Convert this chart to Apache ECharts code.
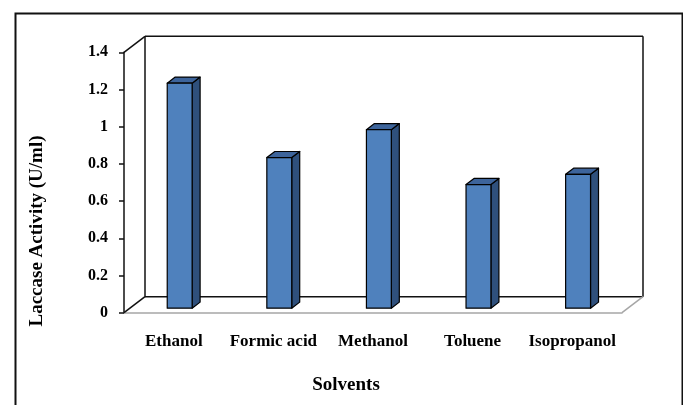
<!DOCTYPE html>
<html>
<head>
<meta charset="utf-8">
<script src="https://cdn.jsdelivr.net/npm/echarts@6/dist/echarts.min.js"></script>
<style>
  html, body { margin: 0; padding: 0; background: #ffffff; }
  #chart { width: 683px; height: 405px; }
</style>
</head>
<body>
<div id="chart"></div>
<script>
// Laccase activity measured after treatment with each solvent
const solvents = ['Ethanol', 'Formic acid', 'Methanol', 'Toluene', 'Isopropanol'];
const activity = [1.21, 0.81, 0.96, 0.665, 0.72];
const yMin = 0;
const yMax = 1.4;
const yStep = 0.2;

const FONT = '"Liberation Serif", "Times New Roman", serif';

// Oblique projection of the pseudo-3D box: offset of the back plane
const DEPTH = [21, -16];
// Bars occupy this slice of the depth
const BAR_FRONT = 0.28;
const BAR_BACK = 0.66;
const BAR_WIDTH_RATIO = 0.25;

const FACE = '#4F81BD';
const TOP = '#3D649B';
const SIDE = '#2F507C';

const chart = echarts.init(document.getElementById('chart'), null, { renderer: 'canvas' });

function renderWalls(params, api) {
  const bw = api.size([1, 0])[0];
  const p0 = api.coord([0, yMin]);
  const pTop = api.coord([0, yMax]);
  const pLast = api.coord([solvents.length - 1, yMin]);
  const L = p0[0] - bw / 2;
  const R = pLast[0] + bw / 2;
  const y0 = p0[1];
  const y1 = pTop[1];
  const dx = DEPTH[0], dy = DEPTH[1];
  const black = { stroke: '#111', lineWidth: 1.5, fill: null };
  const grey = { stroke: '#A6A6A6', lineWidth: 1.5, fill: null };
  const line = (a, b, style) => ({
    type: 'line',
    shape: { x1: a[0], y1: a[1], x2: b[0], y2: b[1] },
    style: style
  });
  return {
    type: 'group',
    children: [
      // back wall
      line([L + dx, y1 + dy], [R + dx, y1 + dy], black),
      line([L + dx, y1 + dy], [L + dx, y0 + dy], black),
      line([R + dx, y1 + dy], [R + dx, y0 + dy], black),
      line([L + dx, y0 + dy], [R + dx, y0 + dy], black),
      // side wall edges
      line([L, y1], [L + dx, y1 + dy], black),
      line([L, y0], [L + dx, y0 + dy], black),
      // floor right edge
      line([R, y0], [R + dx, y0 + dy], grey)
    ]
  };
}

function renderBar(params, api) {
  const i = api.value(0);
  const v = api.value(1);
  const base = api.coord([i, 0]);
  const top = api.coord([i, v]);
  const bw = api.size([1, 0])[0] * BAR_WIDTH_RATIO;
  const fx = base[0] - bw / 2 + DEPTH[0] * BAR_FRONT;
  const fy0 = base[1] + DEPTH[1] * BAR_FRONT;
  const fy1 = top[1] + DEPTH[1] * BAR_FRONT;
  const ddx = DEPTH[0] * (BAR_BACK - BAR_FRONT);
  const ddy = DEPTH[1] * (BAR_BACK - BAR_FRONT);
  const edge = { stroke: '#000', lineWidth: 1.2, lineJoin: 'round' };
  return {
    type: 'group',
    children: [
      {
        type: 'polygon',
        shape: { points: [[fx + bw, fy1], [fx + bw + ddx, fy1 + ddy], [fx + bw + ddx, fy0 + ddy], [fx + bw, fy0]] },
        style: Object.assign({ fill: SIDE }, edge)
      },
      {
        type: 'polygon',
        shape: { points: [[fx, fy1], [fx + bw, fy1], [fx + bw + ddx, fy1 + ddy], [fx + ddx, fy1 + ddy]] },
        style: Object.assign({ fill: TOP }, edge)
      },
      {
        type: 'rect',
        shape: { x: fx, y: fy1, width: bw, height: fy0 - fy1 },
        style: Object.assign({ fill: FACE }, edge)
      }
    ]
  };
}

const option = {
  animation: false,
  backgroundColor: '#ffffff',
  grid: { left: 124, right: 61, top: 52.3, bottom: 92.3, containLabel: false },
  xAxis: {
    type: 'category',
    data: solvents,
    boundaryGap: true,
    axisLine: { show: true, lineStyle: { color: '#A6A6A6', width: 1.5 } },
    axisTick: { show: false },
    axisLabel: {
      interval: 0,
      margin: 20,
      color: '#000',
      fontFamily: FONT,
      fontWeight: 'bold',
      fontSize: 17
    },
    splitLine: { show: false }
  },
  yAxis: {
    type: 'value',
    min: yMin,
    max: yMax,
    interval: yStep,
    axisLine: { show: true, lineStyle: { color: '#111', width: 1.5 } },
    axisTick: { show: true, length: 5, lineStyle: { color: '#111', width: 1.5 } },
    axisLabel: {
      margin: 16,
      color: '#000',
      fontFamily: FONT,
      fontWeight: 'bold',
      fontSize: 16
    },
    splitLine: { show: false }
  },
  series: [
    {
      type: 'custom',
      name: 'walls',
      coordinateSystem: 'cartesian2d',
      clip: false,
      silent: true,
      z: 1,
      renderItem: renderWalls,
      data: [[0, 0]]
    },
    {
      type: 'custom',
      name: 'Laccase Activity',
      coordinateSystem: 'cartesian2d',
      clip: false,
      z: 3,
      renderItem: renderBar,
      encode: { x: 0, y: 1 },
      data: activity.map((v, i) => [i, v])
    }
  ],
  graphic: [
    {
      type: 'rect',
      left: 13, top: 11,
      shape: { width: 667, height: 420 },
      style: { fill: null, stroke: '#111', lineWidth: 2 },
      silent: true
    },
    {
      type: 'text',
      x: 37, y: 231,
      rotation: Math.PI / 2,
      style: {
        text: 'Laccase Activity (U/ml)',
        fill: '#000',
        font: 'bold 19px ' + FONT,
        textAlign: 'center',
        textVerticalAlign: 'middle'
      }
    },
    {
      type: 'text',
      x: 346, y: 385,
      style: {
        text: 'Solvents',
        fill: '#000',
        font: 'bold 19px ' + FONT,
        textAlign: 'center',
        textVerticalAlign: 'middle'
      }
    }
  ]
};

chart.setOption(option);
</script>
</body>
</html>
